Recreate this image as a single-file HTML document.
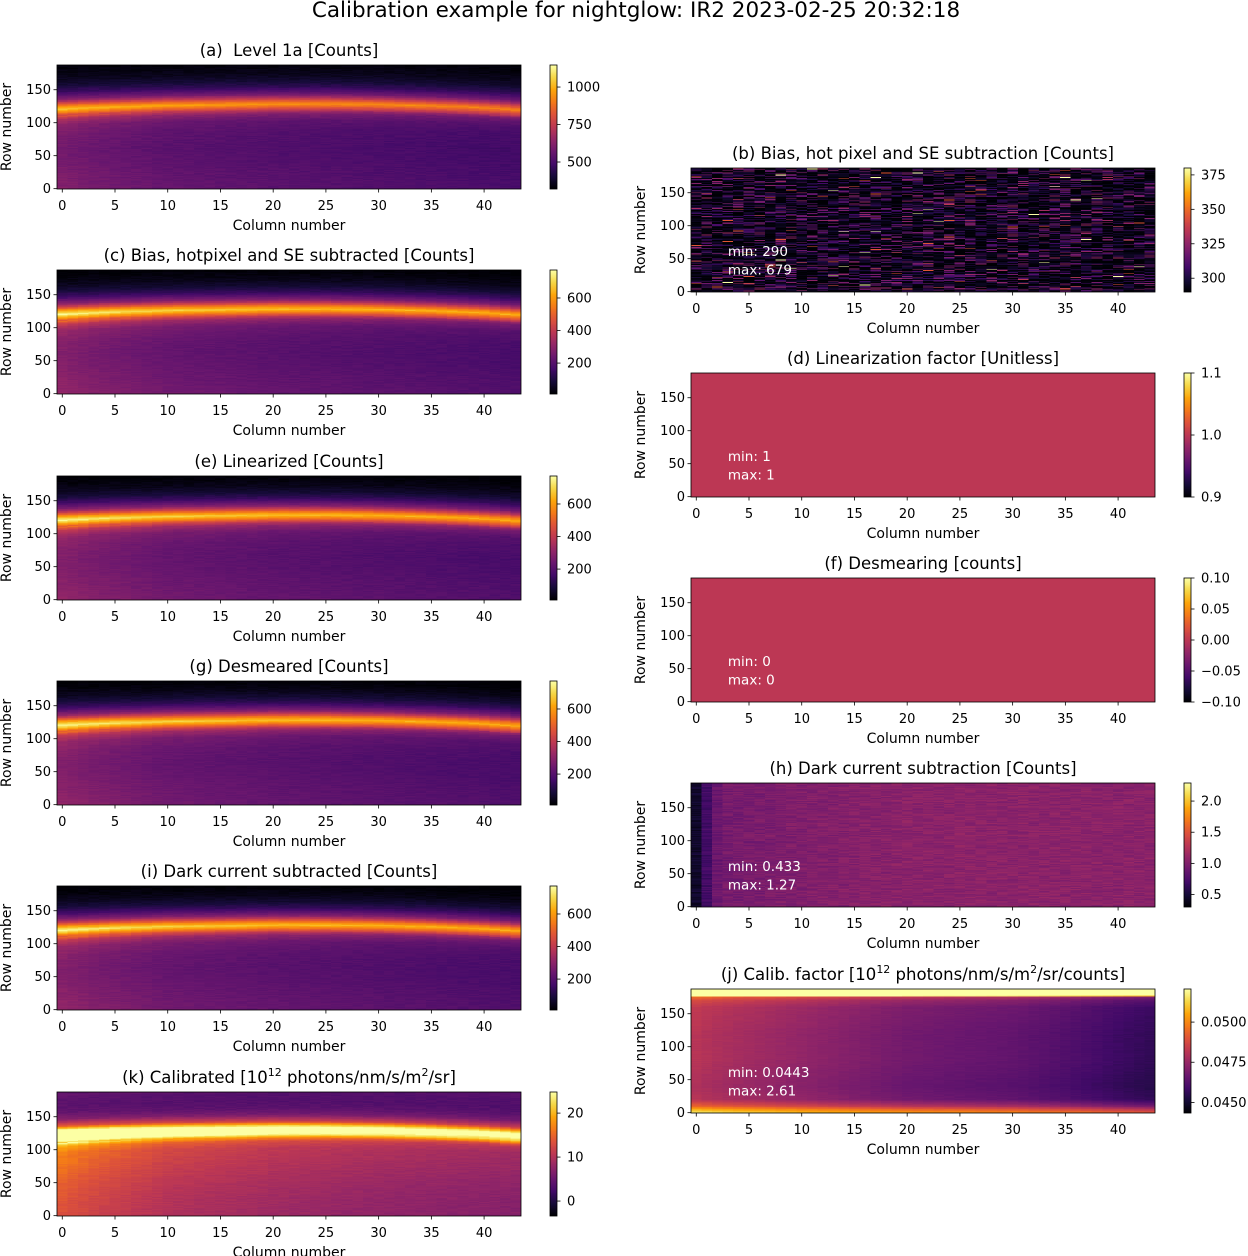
<!DOCTYPE html>
<html><head><meta charset="utf-8">
<style>
html,body{margin:0;padding:0;background:#fff;}
#fig{position:relative;width:1248px;height:1256px;overflow:hidden;background:#fff;font-family:"DejaVu Sans","Liberation Sans",sans-serif;}
canvas{position:absolute;image-rendering:pixelated;}
svg{position:absolute;left:0;top:0;}
</style></head>
<body>
<div id="fig">
<svg id="ov" width="1248" height="1256">
<text x="636" y="17" text-anchor="middle" font-size="21.5" fill="#000">Calibration example for nightglow: IR2 2023-02-25 20:32:18</text>
</svg>
</div>
<script>
// ---- data arrays ----
const nCols = 44, nRows = 188;
const bandCols = [0,5,10,15,20,25,30,35,40,43];
const bandRows = [121,124,126,127,128,128,127,125,122,119];
const profOffsets = [-125,-100,-80,-60,-40,-25,-15,-10,-5,0,5,10,15,25,35,45,55,62];
const profC = [240,230,220,215,225,250,320,420,560,680,560,410,280,150,80,40,20,10];
const profK = [8.5,8.8,9.2,9.8,10.5,11,13,17,24,28,27,20,12,6,4,3.5,3.5,4];
const colFacCols = [0,3,10,20,30,40,43];
const colFacC = [1.3,1.2,1.05,0.95,0.88,0.82,0.8];
const colFacK = [1.55,1.4,1.15,1.0,0.9,0.82,0.8];
const hCols = [0,1,2,3,10,20,30,40,43];
const hVals = [0.45,0.7,0.9,0.95,1.0,1.05,1.05,1.05,1.05];
const jRowRows = [0,5,10,20,40,80,120,160,170,176,177.5,187];
const jRowVals = [0.0035,0.0025,0.0012,0.0,-0.0002,0,0,0.0002,0.0007,0.0015,0.007,0.007];
const jColCols = [0,2,5,10,20,30,35,40,43];
const jColVals = [0.0481,0.0479,0.0477,0.0474,0.0468,0.0465,0.0462,0.0458,0.0456];
const xTicks = [0,5,10,15,20,25,30,35,40];
const yTicks = [0,50,100,150];

const infernoStops = ['#000004','#160b39','#420a68','#6a176e','#932667','#bc3754','#dd513a','#f37819','#fca50a','#f6d746','#fcffa4'];
const rgbStops = infernoStops.map(h=>[parseInt(h.substr(1,2),16),parseInt(h.substr(3,2),16),parseInt(h.substr(5,2),16)]);
function cmap(t){t=Math.max(0,Math.min(1,t));const f=t*10,i=Math.min(9,Math.floor(f)),u=f-i;const a=rgbStops[i],b=rgbStops[i+1];return [a[0]+(b[0]-a[0])*u,a[1]+(b[1]-a[1])*u,a[2]+(b[2]-a[2])*u];}
function interp(xs,ys,x){if(x<=xs[0])return ys[0];for(let i=1;i<xs.length;i++){if(x<=xs[i]){const u=(x-xs[i-1])/(xs[i]-xs[i-1]);return ys[i-1]+(ys[i]-ys[i-1])*u;}}return ys[ys.length-1];}
function hash(r,c,s){let h=(r*374761393+c*668265263+s*982451653)|0;h=(h^(h>>>13))*1274126177|0;h=h^(h>>>16);return ((h>>>0)%10000)/10000;}

function bandVal(prof,fac,r,c){const center=interp(bandCols,bandRows,c);const off=r-center;const v=interp(profOffsets,prof,off);const f=interp(colFacCols,fac,c);const bgw=off< -10?1:(off<0?0.5:0.3);return v*(1+(f-1)*bgw);}
const panels = [
 {id:'a',side:0,top:65,title:'(a)\u00a0 Level 1a [Counts]',vmin:320,vmax:1147,ticks:[500,750,1000],tl:['500','750','1000'],fn:(r,c)=>bandVal(profC,colFacC,r,c)*0.95+320+(hash(r,c,1)-0.5)*30},
 {id:'c',side:0,top:270,title:'(c) Bias, hotpixel and SE subtracted [Counts]',vmin:10,vmax:772,ticks:[200,400,600],tl:['200','400','600'],fn:(r,c)=>bandVal(profC,colFacC,r,c)+(hash(r,c,2)-0.5)*25},
 {id:'e',side:0,top:476,title:'(e) Linearized [Counts]',vmin:10,vmax:772,ticks:[200,400,600],tl:['200','400','600'],fn:(r,c)=>bandVal(profC,colFacC,r,c)+(hash(r,c,3)-0.5)*25},
 {id:'g',side:0,top:681,title:'(g) Desmeared [Counts]',vmin:10,vmax:772,ticks:[200,400,600],tl:['200','400','600'],fn:(r,c)=>bandVal(profC,colFacC,r,c)+(hash(r,c,4)-0.5)*25},
 {id:'i',side:0,top:886,title:'(i) Dark current subtracted [Counts]',vmin:10,vmax:772,ticks:[200,400,600],tl:['200','400','600'],fn:(r,c)=>bandVal(profC,colFacC,r,c)+(hash(r,c,5)-0.5)*25},
 {id:'k',side:0,top:1092,title:'(k) Calibrated [10<sup>12</sup> photons/nm/s/m<sup>2</sup>/sr]',vmin:-3.4,vmax:24.8,ticks:[0,10,20],tl:['0','10','20'],fn:(r,c)=>bandVal(profK,colFacK,r,c)+(hash(r,c,6)-0.5)*1.0},
 {id:'b',side:1,top:168,title:'(b) Bias, hot pixel and SE subtraction [Counts]',vmin:290,vmax:380,ticks:[300,325,350,375],tl:['300','325','350','375'],mm:['min: 290','max: 679'],fn:(r,c)=>{const h=hash(r,c,7);if(h>0.996)return 385;if(h>0.985)return 345;const q=hash(r,c,8);return 290+q*q*q*q*40;}},
 {id:'d',side:1,top:373,title:'(d) Linearization factor [Unitless]',vmin:0.9,vmax:1.1,ticks:[0.9,1.0,1.1],tl:['0.9','1.0','1.1'],mm:['min: 1','max: 1'],fn:()=>1},
 {id:'f',side:1,top:578,title:'(f) Desmearing [counts]',vmin:-0.1,vmax:0.1,ticks:[-0.1,-0.05,0,0.05,0.1],tl:['\u22120.10','\u22120.05','0.00','0.05','0.10'],mm:['min: 0','max: 0'],fn:()=>0},
 {id:'h',side:1,top:783,title:'(h) Dark current subtraction [Counts]',vmin:0.3,vmax:2.29,ticks:[0.5,1.0,1.5,2.0],tl:['0.5','1.0','1.5','2.0'],mm:['min: 0.433','max: 1.27'],fn:(r,c)=>interp(hCols,hVals,c)+(hash(r,c,10)-0.5)*0.15},
 {id:'j',side:1,top:989,title:'(j) Calib. factor [10<sup>12</sup> photons/nm/s/m<sup>2</sup>/sr/counts]',vmin:0.04434,vmax:0.05206,ticks:[0.045,0.0475,0.05],tl:['0.0450','0.0475','0.0500'],mm:['min: 0.0443','max: 2.61'],fn:(r,c)=>interp(jColCols,jColVals,c)+interp(jRowRows,jRowVals,r)+(hash(r,c,11)-0.5)*0.00015}
];

const fig=document.getElementById('fig');
const ov=document.getElementById('ov');
const NS='http://www.w3.org/2000/svg';
function mk(tag,attrs,parent){const e=document.createElementNS(NS,tag);for(const k in attrs)e.setAttribute(k,attrs[k]);(parent||ov).appendChild(e);return e;}
const AW=464,AH=124;

panels.forEach(p=>{
  const X0=p.side?691:57, CBX=p.side?1184:550;
  const xs=c=>X0+(c+0.5)/nCols*AW;
  const ys=r=>p.top+(nRows-0.5-r)/nRows*AH;
  const cv=document.createElement('canvas');
  
  
  cv.width=nCols;cv.height=nRows;
  cv.style.left=X0+'px';cv.style.top=p.top+'px';cv.style.width=AW+'px';cv.style.height=AH+'px';
  const ctx=cv.getContext('2d');const img=ctx.createImageData(nCols,nRows);
  for(let r=0;r<nRows;r++)for(let c=0;c<nCols;c++){
    const v=p.fn(r,c);const col=cmap((v-p.vmin)/(p.vmax-p.vmin));
    const i=((nRows-1-r)*nCols+c)*4;img.data[i]=col[0];img.data[i+1]=col[1];img.data[i+2]=col[2];img.data[i+3]=255;}
  ctx.putImageData(img,0,0);fig.insertBefore(cv,ov);
  const cb=document.createElement('canvas');
  
  
  cb.width=1;cb.height=256;cb.style.left=CBX+'px';cb.style.top=p.top+'px';cb.style.width='7px';cb.style.height=AH+'px';
  const cc=cb.getContext('2d');const ci=cc.createImageData(1,256);
  for(let k=0;k<256;k++){const col=cmap(1-k/255);ci.data[k*4]=col[0];ci.data[k*4+1]=col[1];ci.data[k*4+2]=col[2];ci.data[k*4+3]=255;}
  cc.putImageData(ci,0,0);fig.insertBefore(cb,ov);
  const g=mk('g',{});
  
  
  const fr=mk('rect',{x:X0,y:p.top,width:AW,height:AH,fill:'none',stroke:'#000','stroke-width':0.8},g);
  
  
  const cf=mk('rect',{x:CBX,y:p.top,width:7,height:AH,fill:'none',stroke:'#000','stroke-width':0.8},g);
  
  
  xTicks.forEach(t=>{
    const x=xs(t);
    const tk=mk('line',{x1:x,x2:x,y1:p.top+AH,y2:p.top+AH+3.5,stroke:'#000','stroke-width':0.8},g);
    
    
    const tx=mk('text',{x:x,y:p.top+AH+21,'text-anchor':'middle','font-size':13},g);
    
    
    tx.textContent=t;
  });
  yTicks.forEach(t=>{
    const y=ys(t);
    const tk=mk('line',{x1:X0-3.5,x2:X0,y1:y,y2:y,stroke:'#000','stroke-width':0.8},g);
    
    
    const tx=mk('text',{x:X0-6,y:y+4.5,'text-anchor':'end','font-size':13},g);
    
    
    tx.textContent=t;
  });
  p.ticks.forEach((t,i)=>{
    const y=p.top+(p.vmax-t)/(p.vmax-p.vmin)*AH;
    const tk=mk('line',{x1:CBX+7,x2:CBX+10.5,y1:y,y2:y,stroke:'#000','stroke-width':0.8},g);
    
    
    const tx=mk('text',{x:CBX+17,y:y+4.5,'font-size':13},g);
    
    
    tx.textContent=p.tl[i];
  });
  const xl=mk('text',{x:X0+AW/2,y:p.top+AH+41,'text-anchor':'middle','font-size':14},g);
  
  
  xl.textContent='Column number';
  const yx=X0-46, yy=p.top+AH/2;
  const yl=mk('text',{x:yx,y:yy,'text-anchor':'middle','font-size':14,transform:'rotate(-90 '+yx+' '+yy+')'},g);
  
  
  yl.textContent='Row number';
  const tt=mk('text',{x:X0+AW/2,y:p.top-9,'text-anchor':'middle','font-size':16.5},g);
  
  
  const parts=p.title.split(/<sup>|<\/sup>/);
  parts.forEach((s,i)=>{const ts=mk('tspan',{},tt);if(i%2===1){ts.setAttribute('font-size','11');ts.setAttribute('dy','-7');}else if(i>0){ts.setAttribute('dy','7');}ts.textContent=s;});
  if(p.mm){
    p.mm.forEach((s,i)=>{
      const m=mk('text',{x:xs(3),y:ys(i?32:60)+4,'font-size':13.5,fill:'#fff'},g);
      
      
      m.textContent=s;
    });
  }
});
</script>
</body></html>
